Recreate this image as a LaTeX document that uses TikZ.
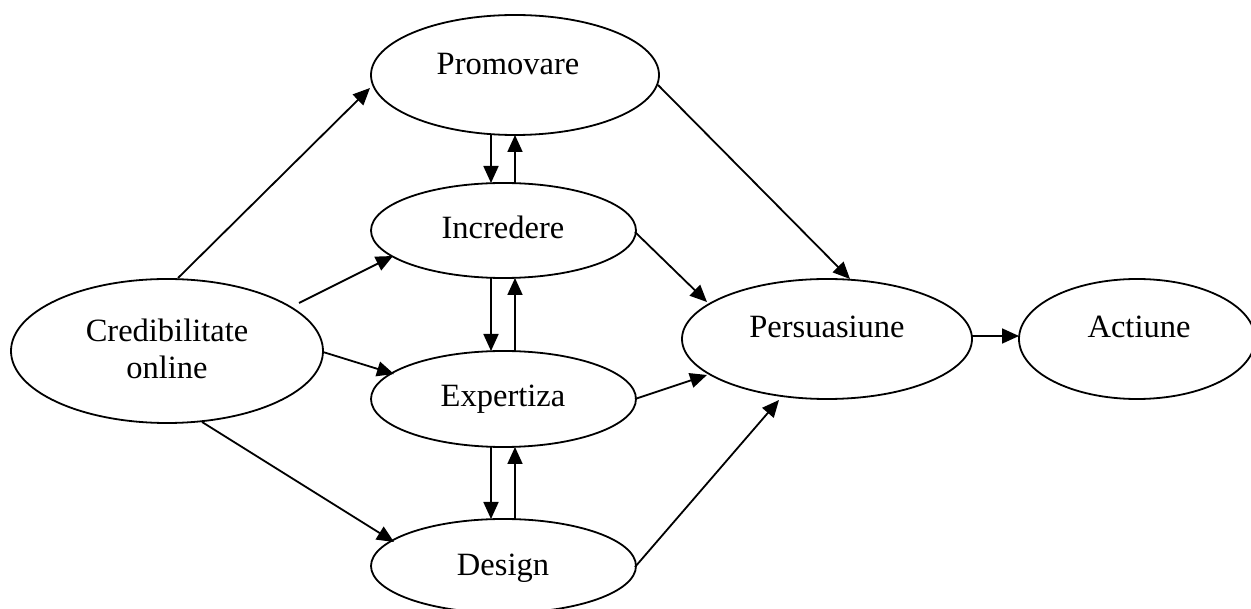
\documentclass[tikz,border=0pt]{standalone}
\usepackage{fontspec}
\setmainfont{Liberation Serif}
\usetikzlibrary{arrows.meta,shapes.geometric}
\begin{document}
\begin{tikzpicture}[x=1pt,y=-1pt,
  ell/.style={draw, ellipse, line width=1.8pt, inner sep=0pt},
  lbl/.style={anchor=base, inner sep=0pt, font=\fontsize{32.5}{37}\selectfont},
  conn/.style={line width=1.8pt, -{Triangle[length=17pt,width=15pt]}}]
\useasboundingbox (0,0) rectangle (1251,609);
% ellipses
\node[ell, minimum width=312pt, minimum height=144pt] (cred) at (167,351) {};
\node[ell, minimum width=288pt, minimum height=120pt] (prom) at (515,75) {};
\node[ell, minimum width=265pt, minimum height=95pt] (incr) at (503.5,230.5) {};
\node[ell, minimum width=265pt, minimum height=96pt] (expe) at (503.5,399) {};
\node[ell, minimum width=265pt, minimum height=94pt] (desi) at (503.5,566) {};
\node[ell, minimum width=290pt, minimum height=120pt] (pers) at (827,339) {};
\node[ell, minimum width=236pt, minimum height=120pt] (acti) at (1137,339) {};
% labels
\node[lbl] (tprom) at (508,75) {Promovare};
\node[lbl] (tcred1) at (167,342) {Credibilitate};
\node[lbl] (tcred2) at (167,379) {online};
\node[lbl] (tincr) at (503,239) {Incredere};
\node[lbl] (texpe) at (503,407) {Expertiza};
\node[lbl] (tdesi) at (503,575) {Design};
\node[lbl] (tpers) at (827,338) {Persuasiune};
\node[lbl] (tacti) at (1139,338) {Actiune};
% connectors from Credibilitate online
\draw[conn] ([shift={(11,-73)}]cred.center) -- ([shift={(-145,13)}]prom.center);
\draw[conn] ([shift={(132,-48)}]cred.center) -- ([shift={(-110.5,25.5)}]incr.center);
\draw[conn] ([shift={(156,1)}]cred.center) -- ([shift={(-109.5,-25)}]expe.center);
\draw[conn] ([shift={(35,71)}]cred.center) -- ([shift={(-109.5,-24)}]desi.center);
% connectors to Persuasiune
\draw[conn] ([shift={(143,10)}]prom.center) -- ([shift={(23,-60)}]pers.center);
\draw[conn] ([shift={(131.5,1.5)}]incr.center) -- ([shift={(-120,-37)}]pers.center);
\draw[conn] ([shift={(131.5,0)}]expe.center) -- ([shift={(-120,36)}]pers.center);
\draw[conn] ([shift={(131.5,1)}]desi.center) -- ([shift={(-48,61)}]pers.center);
\draw[conn] ([shift={(145,-3)}]pers.center) -- ([shift={(-118,-3)}]acti.center);
% vertical pairs
\draw[conn] ([shift={(-24,60)}]prom.center) -- ([shift={(-12.5,-47.5)}]incr.center);
\draw[conn] ([shift={(11.5,-47.5)}]incr.center) -- ([shift={(0,60)}]prom.center);
\draw[conn] ([shift={(-12.5,47.5)}]incr.center) -- ([shift={(-12.5,-48)}]expe.center);
\draw[conn] ([shift={(11.5,-48)}]expe.center) -- ([shift={(11.5,47.5)}]incr.center);
\draw[conn] ([shift={(-12.5,48)}]expe.center) -- ([shift={(-12.5,-47)}]desi.center);
\draw[conn] ([shift={(11.5,-47)}]desi.center) -- ([shift={(11.5,48)}]expe.center);
\end{tikzpicture}
\end{document}
